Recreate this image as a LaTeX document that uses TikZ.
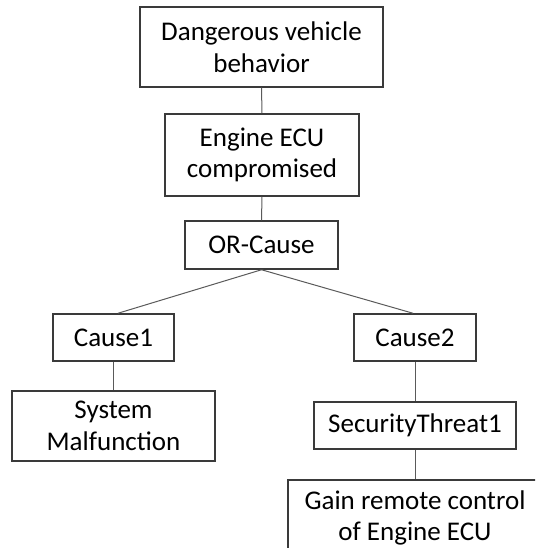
\documentclass[tikz,border=0pt]{standalone}
\usepackage{fontspec}
\setmainfont{Carlito}
\definecolor{boxline}{HTML}{3A3A3A}
\definecolor{conline}{HTML}{5A5A5A}
\tikzset{
  treebox/.style={draw=boxline, line width=1.5pt, fill=white, inner sep=0pt,
    align=center, font=\fontsize{27}{31.5}\selectfont, text=black},
  conn/.style={draw=conline, line width=1pt}
}
\begin{document}
\begin{tikzpicture}[x=1pt,y=-1pt]
\useasboundingbox (0,0) rectangle (535,548);
\clip (0,0) rectangle (535,548);
\node[treebox, minimum width=243pt, minimum height=80pt] (top) at (261.5,47) {Dangerous vehicle\\behavior};
\node[treebox, minimum width=194pt, minimum height=82pt] (ecu) at (262,155) {Engine ECU\\compromised};
\node[treebox, minimum width=153pt, minimum height=48pt] (or) at (261.5,245) {OR-Cause};
\node[treebox, minimum width=121pt, minimum height=47pt] (c1) at (113.5,337.5) {Cause1};
\node[treebox, minimum width=122pt, minimum height=47pt] (c2) at (415,337.5) {Cause2};
\node[treebox, minimum width=203pt, minimum height=70pt] (sm) at (113.5,426) {System\\Malfunction};
\node[treebox, minimum width=202pt, minimum height=47pt] (st) at (415,425.5) {SecurityThreat1};
\node[treebox, minimum width=254pt, minimum height=76pt] (gain) at (415,518) {Gain remote control\\of Engine ECU};
\draw[conn] (top.south) -- (ecu.north);
\draw[conn] (ecu.south) -- (or.north);
\draw[conn] (or.south) -- ([xshift=4.5pt]c1.north);
\draw[conn] (or.south) -- ([xshift=-2pt]c2.north);
\draw[conn] (c1.south) -- (sm.north);
\draw[conn] (c2.south) -- (st.north);
\draw[conn] (st.south) -- (gain.north);
\end{tikzpicture}
\end{document}
